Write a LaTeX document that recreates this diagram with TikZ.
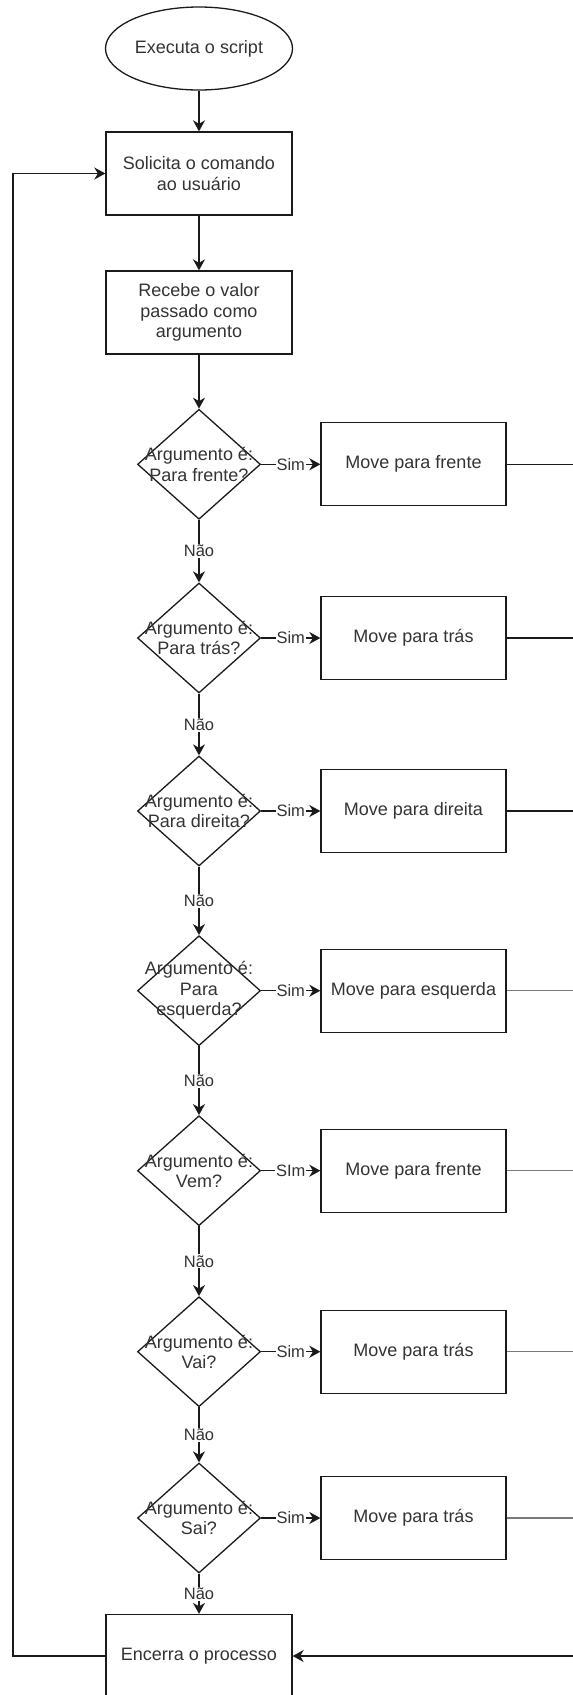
\documentclass[tikz,border=0pt]{standalone}
\usepackage{fontspec}
\setmainfont{Liberation Sans}
\usetikzlibrary{shapes.geometric,arrows.meta}
\definecolor{ink}{HTML}{1A1A1A}
\definecolor{txt}{HTML}{333333}
\definecolor{railgray}{HTML}{7A7A7A}
\tikzset{
  line/.style={draw=ink, line width=1.5pt},
  arrow/.style={line, -{Stealth[length=11pt,width=12pt,inset=3.5pt]}},
  base/.style={text=txt, font=\fontsize{18}{20.5}\selectfont, align=center, inner sep=0pt},
  terminal/.style={base, ellipse, draw=ink, line width=1.3pt, minimum width=187pt, minimum height=83pt},
  process/.style={base, rectangle, draw=ink, line width=1.3pt, minimum width=186pt, minimum height=83pt},
  action/.style={base, rectangle, draw=ink, line width=1.3pt, minimum width=185pt, minimum height=83pt},
  decision/.style={diamond, draw=ink, line width=1.3pt, minimum width=123pt, minimum height=110pt, inner sep=0pt},
  dtext/.style={base},
  elabel/.style={text=txt, font=\fontsize{16.5}{18}\selectfont, fill=white, inner sep=1pt},
}
\begin{document}
\begin{tikzpicture}[x=1pt,y=-1pt]
  \useasboundingbox (0,0) rectangle (573,1695);
  \clip (0,0) rectangle (573,1695);

  % main column
  \node[terminal] (start) at (199,48.5) {Executa o script};
  \node[process] (ask) at (199,173.5) {Solicita o comando\\ao usuário};
  \node[process] (recv) at (199,312.5) {Recebe o valor\\passado como\\argumento};

  % decisions
  \node[decision] (d1) at (199,464.3) {};
  \node[decision] (d2) at (199,638) {};
  \node[decision] (d3) at (199,811) {};
  \node[decision] (d4) at (199,990.7) {};
  \node[decision] (d5) at (199,1170.7) {};
  \node[decision] (d6) at (199,1351.7) {};
  \node[decision] (d7) at (199,1518) {};

  \node[dtext] (t1) at (d1) {Argumento é:\\Para frente?};
  \node[dtext] (t2) at (d2) {Argumento é:\\Para trás?};
  \node[dtext] (t3) at (d3) {Argumento é:\\Para direita?};
  \node[dtext] (t4) at (d4) {Argumento é:\\Para\\esquerda?};
  \node[dtext] (t5) at (d5) {Argumento é:\\Vem?};
  \node[dtext] (t6) at (d6) {Argumento é:\\Vai?};
  \node[dtext] (t7) at (d7) {Argumento é:\\Sai?};

  % actions
  \node[action] (m1) at (413.5,464.3) {Move para frente};
  \node[action] (m2) at (413.5,638) {Move para trás};
  \node[action] (m3) at (413.5,811) {Move para direita};
  \node[action] (m4) at (413.5,990.7) {Move para esquerda};
  \node[action] (m5) at (413.5,1170.7) {Move para frente};
  \node[action] (m6) at (413.5,1351.7) {Move para trás};
  \node[action] (m7) at (413.5,1518) {Move para trás};

  % end
  \node[process] (stop) at (199,1656) {Encerra o processo};

  % rail collecting the actions on the right
  \coordinate (railtop) at (590,464.3);
  \coordinate (railbot) at (590,1656);

  % main flow
  \draw[arrow] (start) -- (ask);
  \draw[arrow] (ask) -- (recv);
  \draw[arrow] (recv) -- (d1);
  \foreach \a/\b in {d1/d2,d2/d3,d3/d4,d4/d5,d5/d6,d6/d7}{
    \draw[arrow] (\a.south) -- node[elabel] {Não} (\b.north);
  }
  \draw[arrow] (d7.south) -- node[elabel] {Não} (stop.north);

  % yes branches
  \foreach \i in {1,2,3,4,6,7}{
    \draw[arrow] (d\i.east) -- node[elabel] {Sim} (m\i.west);
  }
  \draw[arrow] (d5.east) -- node[elabel] {SIm} (m5.west);

  % actions back to the end
  \foreach \i in {1,2,3}{
    \draw[line] (m\i.east) -- (m\i.east -| railtop);
  }
  \foreach \i in {4,5,6,7}{
    \draw[line, draw=railgray] (m\i.east) -- (m\i.east -| railtop);
  }
  \draw[line] (railtop) -- (railbot);
  \draw[arrow] (railbot) -- (stop.east);

  % loop back to the prompt
  \draw[arrow] (stop.west) -- ++(-92.5,0) |- (ask.west);
\end{tikzpicture}
\end{document}
